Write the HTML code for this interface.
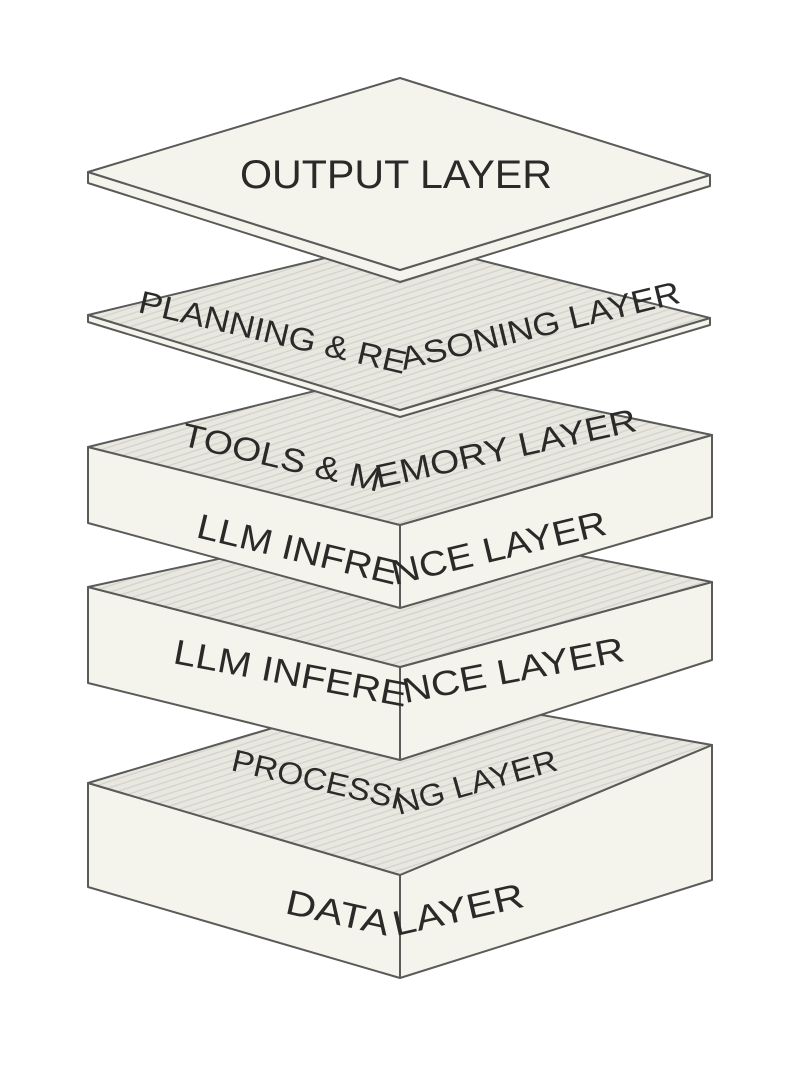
<!DOCTYPE html>
<html><head><meta charset="utf-8"><style>
html,body{margin:0;padding:0;background:#fff;}
svg{display:block}
text{font-family:"Liberation Sans",sans-serif;fill:#2a2a28;}
</style></head><body>
<svg width="787" height="1080" viewBox="0 0 787 1080" xmlns="http://www.w3.org/2000/svg">
<defs>
<pattern id="h" width="6" height="6" patternUnits="userSpaceOnUse" patternTransform="rotate(-18)">
<rect width="6" height="6" fill="#e8e7e0"/><line x1="0" y1="3" x2="6" y2="3" stroke="#d2d1ca" stroke-width="1.2"/>
</pattern>
<path id="p1" d="M137,312 L395,372 L700,298"/>
<path id="p2" d="M180,445 L370,490 L650,428"/>
<path id="p3" d="M195,537 L395,585 L625,530"/>
<path id="p4" d="M172,663 L395,705 L640,658"/>
<path id="p5" d="M230,770 L410,812 L580,764"/>
<path id="p6" d="M284,913 L392,937 L545,902"/>
</defs>
<g stroke="#5a5a58" stroke-width="2" stroke-linejoin="round" fill="#f4f3ec">
<polygon points="88,783 88,887 400,978 712,880 712,745 400,875"/>
<polygon points="88,783 400,690 712,745 400,875" fill="url(#h)"/>
<line x1="400" y1="875" x2="400" y2="978"/>
<polygon points="88,587 88,683 400,760 712,660 712,582 400,667"/>
<polygon points="88,587 400,520 712,582 400,667" fill="url(#h)"/>
<line x1="400" y1="667" x2="400" y2="760"/>
<polygon points="88,447 88,523 400,608 712,517 712,435 400,525"/>
<polygon points="88,447 400,370 712,435 400,525" fill="url(#h)"/>
<line x1="400" y1="525" x2="400" y2="608"/>
<polygon points="88,315 88,322 400,417 710,325 710,318 400,410"/>
<polygon points="88,315 400,240 710,318 400,410" fill="url(#h)"/>
<polygon points="88,172 88,183 400,282 710,186 710,175 400,270"/>
<polygon points="88,172 400,78 710,175 400,270"/>
</g>
<text x="240" y="188" font-size="40" textLength="312" lengthAdjust="spacingAndGlyphs">OUTPUT  LAYER</text>
<text font-size="32"><textPath href="#p1" textLength="560" lengthAdjust="spacingAndGlyphs">PLANNING &amp; REASONING LAYER</textPath></text>
<text font-size="33"><textPath href="#p2" textLength="470" lengthAdjust="spacingAndGlyphs">TOOLS &amp; MEMORY LAYER</textPath></text>
<text font-size="35"><textPath href="#p3" textLength="425" lengthAdjust="spacingAndGlyphs">LLM INFRENCE LAYER</textPath></text>
<text font-size="35"><textPath href="#p4" textLength="462" lengthAdjust="spacingAndGlyphs">LLM INFERENCE LAYER</textPath></text>
<text font-size="31"><textPath href="#p5" textLength="340" lengthAdjust="spacingAndGlyphs">PROCESSING LAYER</textPath></text>
<text font-size="35"><textPath href="#p6" textLength="248" lengthAdjust="spacingAndGlyphs">DATA LAYER</textPath></text>
</svg>
</body></html>
